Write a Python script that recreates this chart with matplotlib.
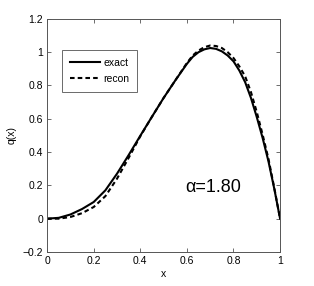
import matplotlib
matplotlib.use("Agg")
import matplotlib.pyplot as plt

plt.rcParams['font.family'] = ['Liberation Sans', 'DejaVu Sans']

x_vals = [0.0, 0.05, 0.1, 0.15, 0.2, 0.25, 0.3, 0.35, 0.4, 0.45, 0.5, 0.55, 0.6,
          0.625, 0.65, 0.675, 0.7, 0.725, 0.75, 0.775, 0.8, 0.825, 0.85, 0.875,
          0.9, 0.925, 0.95, 0.975, 1.0]
exact = [0.0, 0.005, 0.025, 0.058, 0.10, 0.17, 0.27, 0.382, 0.498, 0.612, 0.725,
         0.83, 0.93, 0.972, 1.0, 1.017, 1.025, 1.02, 1.005, 0.98, 0.945, 0.89,
         0.82, 0.725, 0.61, 0.485, 0.345, 0.18, 0.0]
recon = [0.0, 0.0, 0.01, 0.033, 0.07, 0.135, 0.24, 0.365, 0.495, 0.612, 0.725,
         0.83, 0.935, 0.98, 1.01, 1.03, 1.04, 1.037, 1.025, 1.0, 0.965, 0.915,
         0.855, 0.76, 0.64, 0.505, 0.36, 0.185, 0.0]

x_ticks = [0, 0.2, 0.4, 0.6, 0.8, 1]
x_ticklabels = ['0', '0.2', '0.4', '0.6', '0.8', '1']
y_ticks = [-0.2, 0, 0.2, 0.4, 0.6, 0.8, 1.0, 1.2]
y_ticklabels = ['\u22120.2', '0', '0.2', '0.4', '0.6', '0.8', '1', '1.2']

fig = plt.figure(figsize=(3.14, 2.86), dpi=100)
ax = fig.add_axes([0.150, 0.119, 0.742, 0.815])

ax.plot(x_vals, exact, color='black', lw=1.5, label='exact')
ax.plot(x_vals, recon, color='black', lw=1.5, ls=(0, (2.2, 1.5)), label='recon')

ax.set_xlim(0, 1)
ax.set_ylim(-0.2, 1.2)
ax.set_xticks(x_ticks)
ax.set_xticklabels(x_ticklabels)
ax.set_yticks(y_ticks)
ax.set_yticklabels(y_ticklabels)
ax.tick_params(direction='in', top=True, right=True, labelsize=7.5, length=3,
               width=0.6, color='#555555', pad=3)
for s in ax.spines.values():
    s.set_color('#555555')
    s.set_linewidth(0.7)

ax.set_xlabel('x', fontsize=7.5, labelpad=2)
ax.set_ylabel('q(x)', fontsize=7.5, labelpad=4)

ax.text(0.592, 0.19, '\u03b1=1.80', fontsize=13, ha='left', va='center')

leg = ax.legend(loc='upper left', bbox_to_anchor=(0.066, 0.867), borderaxespad=0,
                fontsize=7.5, handlelength=2.9, handletextpad=0.3,
                labelspacing=0.6, borderpad=0.75, fancybox=False, frameon=True)
leg.get_frame().set_edgecolor('#444444')
leg.get_frame().set_linewidth(0.7)

fig.savefig('out.png', dpi=100)
